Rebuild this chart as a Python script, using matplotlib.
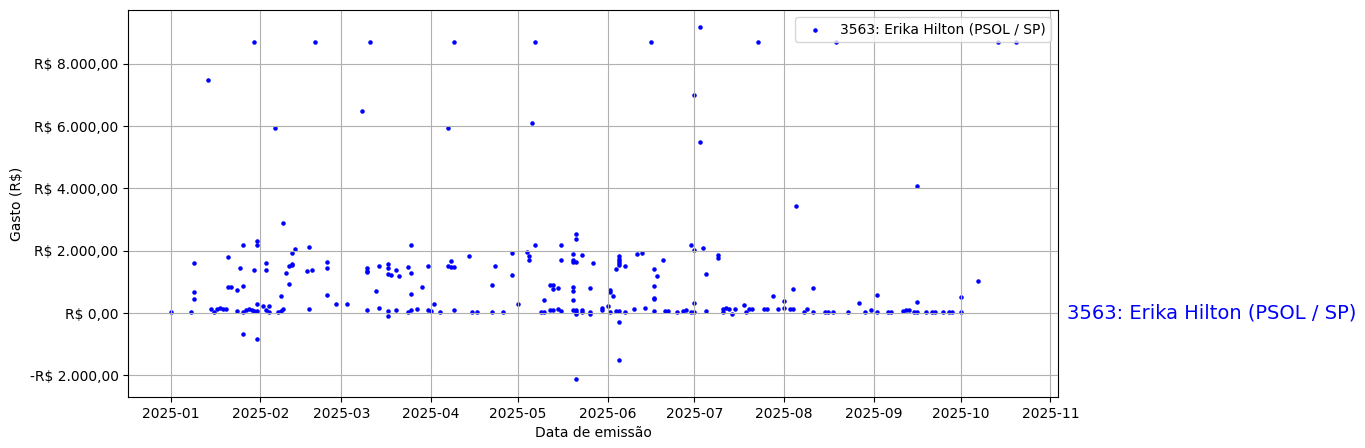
import matplotlib
matplotlib.use("Agg")
import matplotlib.pyplot as plt
import matplotlib.dates as mdates
import matplotlib.ticker as mticker
import matplotlib.transforms as mtransforms
import pandas as pd

LABEL = "3563: Erika Hilton (PSOL / SP)"

# --- data (issue date, amount in R$) ---
dates = [
    "2025-01-01", "2025-01-08", "2025-01-09", "2025-01-09", "2025-01-09", "2025-01-14",
    "2025-01-15", "2025-01-16", "2025-01-17", "2025-01-18", "2025-01-19", "2025-01-20",
    "2025-01-21", "2025-01-21", "2025-01-22", "2025-01-24", "2025-01-25", "2025-01-26",
    "2025-01-26", "2025-01-26", "2025-01-24", "2025-01-26", "2025-01-27", "2025-01-28",
    "2025-01-29", "2025-01-30", "2025-01-30", "2025-01-30", "2025-01-31", "2025-01-31",
    "2025-01-31", "2025-01-31", "2025-01-31",
    "2025-02-02", "2025-02-03", "2025-02-03", "2025-02-03", "2025-02-04", "2025-02-04",
    "2025-02-06", "2025-02-07", "2025-02-08", "2025-02-08", "2025-02-09", "2025-02-09",
    "2025-02-10", "2025-02-11", "2025-02-11", "2025-02-12", "2025-02-12", "2025-02-12",
    "2025-02-13", "2025-02-17", "2025-02-18", "2025-02-18", "2025-02-19", "2025-02-20",
    "2025-02-24", "2025-02-24", "2025-02-24", "2025-02-27",
    "2025-03-03", "2025-03-08", "2025-03-10", "2025-03-10", "2025-03-10", "2025-03-10",
    "2025-03-11", "2025-03-13", "2025-03-14", "2025-03-14", "2025-03-17", "2025-03-17",
    "2025-03-17", "2025-03-17", "2025-03-17", "2025-03-18", "2025-03-20", "2025-03-20",
    "2025-03-21", "2025-03-24", "2025-03-24", "2025-03-25", "2025-03-25", "2025-03-25",
    "2025-03-25", "2025-03-27", "2025-03-29", "2025-03-31", "2025-03-31",
    "2025-04-01", "2025-04-02", "2025-04-04", "2025-04-07", "2025-04-07", "2025-04-08",
    "2025-04-08", "2025-04-09", "2025-04-09", "2025-04-09", "2025-04-14", "2025-04-15",
    "2025-04-17", "2025-04-22", "2025-04-22", "2025-04-23", "2025-04-26", "2025-04-29",
    "2025-04-29",
    "2025-05-01", "2025-05-04", "2025-05-05", "2025-05-05", "2025-05-06", "2025-05-07",
    "2025-05-07", "2025-05-09", "2025-05-10", "2025-05-10", "2025-05-12", "2025-05-12",
    "2025-05-13", "2025-05-13", "2025-05-13", "2025-05-15", "2025-05-15", "2025-05-16",
    "2025-05-16", "2025-05-16", "2025-05-20", "2025-05-20", "2025-05-20", "2025-05-20",
    "2025-05-20", "2025-05-20", "2025-05-20", "2025-05-21", "2025-05-21", "2025-05-21",
    "2025-05-21", "2025-05-21", "2025-05-21", "2025-05-21", "2025-05-23", "2025-05-23",
    "2025-05-23", "2025-05-26", "2025-05-26", "2025-05-26", "2025-05-27", "2025-05-30",
    "2025-05-30",
    "2025-06-01", "2025-06-02", "2025-06-02", "2025-06-02", "2025-06-03", "2025-06-04",
    "2025-06-04", "2025-06-05", "2025-06-05", "2025-06-05", "2025-06-05", "2025-06-05",
    "2025-06-05", "2025-06-05", "2025-06-05", "2025-06-07", "2025-06-07", "2025-06-10",
    "2025-06-11", "2025-06-13", "2025-06-14", "2025-06-16", "2025-06-17", "2025-06-17",
    "2025-06-17", "2025-06-17", "2025-06-17", "2025-06-18", "2025-06-20", "2025-06-21",
    "2025-06-22", "2025-06-25", "2025-06-27", "2025-06-28", "2025-06-30", "2025-06-30",
    "2025-07-01", "2025-07-01", "2025-07-01", "2025-07-01",
    "2025-07-03", "2025-07-03", "2025-07-04", "2025-07-05", "2025-07-05", "2025-07-09",
    "2025-07-09", "2025-07-11", "2025-07-11", "2025-07-12", "2025-07-13", "2025-07-14",
    "2025-07-15", "2025-07-18", "2025-07-19", "2025-07-20", "2025-07-21", "2025-07-23",
    "2025-07-25", "2025-07-26", "2025-07-28", "2025-07-30",
    "2025-08-01", "2025-08-01", "2025-08-03", "2025-08-04", "2025-08-04", "2025-08-05",
    "2025-08-08", "2025-08-09", "2025-08-11", "2025-08-11", "2025-08-15", "2025-08-16",
    "2025-08-18", "2025-08-19", "2025-08-23", "2025-08-27", "2025-08-29", "2025-08-31",
    "2025-09-02", "2025-09-02", "2025-09-06", "2025-09-07", "2025-09-11", "2025-09-12",
    "2025-09-13", "2025-09-15", "2025-09-16", "2025-09-16", "2025-09-16", "2025-09-19",
    "2025-09-21", "2025-09-22", "2025-09-25", "2025-09-27", "2025-09-28",
    "2025-10-01", "2025-10-01", "2025-10-07", "2025-10-14", "2025-10-20",
]
values = [
    20, 20, 1600, 670, 440, 7490,
    120, 20, 120, 150, 120, 120,
    1790, 830, 830, 730, 1440, 2180,
    860, -690, 60, 20, 110, 140,
    90, 8690, 1380, 80, 2310, 2180,
    280, 80, -850,
    220, 1600, 1380, 90, 220, 20,
    5950, 40, 80, 540, 130, 2890,
    1280, 920, 1500, 1530, 1560, 1920,
    2050, 1340, 2120, 120, 1380, 8690,
    1630, 1440, 570, 280,
    280, 6500, 1440, 1340, 1310, 90,
    8690, 700, 1500, 150, 1570, 1440,
    1250, 60, -110, 1210, 1380, 90,
    1180, 1470, 20, 2180, 1280, 600,
    90, 120, 830, 1500, 90,
    50, 280, 20, 5950, 1500, 1470,
    1660, 8690, 1470, 90, 1830, 20,
    20, 20, 890, 1500, 20, 1920,
    1210,
    280, 1950, 1830, 1700, 6110, 8690,
    2180, 20, 20, 410, 890, 90,
    890, 760, 90, 800, 120, 2180,
    1700, 50, 1890, 1700, 1630, 700,
    830, 410, 90, 2540, 2370, 1630,
    90, 20, -40, -2130, 1860, 90,
    20, 800, 20, -40, 1600, 150,
    90,
    220, 20, 730, 670, 540, 1410,
    50, 1830, 1730, 1660, 1600, 1540,
    50, -300, -1520, 20, 1500, 120,
    1890, 1920, 150, 8690, 1410, 860,
    470, 440, 50, 1180, 1700, 50,
    50, 20, 50, 90, 2180, 20,
    7010, 2020, 310, 20,
    9170, 5500, 2080, 1250, 50, 1860,
    1760, 120, 20, 150, 120, -40,
    120, 250, 20, 120, 120, 8690,
    120, 120, 540, 120,
    380, 150, 120, 120, 760, 3440,
    20, 120, 800, 20, 20, 20,
    20, 8690, 20, 310, 20, 90,
    570, 20, 20, 20, 50, 90,
    90, 20, 4090, 340, 20, 20,
    20, 20, 20, 20, 20,
    510, 20, 1020, 8690, 8690,
]


def brl(x, pos=None):
    s = f"{abs(x):,.2f}".replace(",", "X").replace(".", ",").replace("X", ".")
    return f"-R$ {s}" if x < 0 else f"R$ {s}"


fig, ax = plt.subplots(figsize=(13.65, 4.48), dpi=100)
fig.subplots_adjust(left=0.094, right=0.775, top=0.978, bottom=0.114)

ax.scatter(pd.to_datetime(dates), values, s=5, color="blue", label=LABEL)

ax.xaxis.set_major_locator(mdates.MonthLocator())
ax.xaxis.set_major_formatter(mdates.DateFormatter("%Y-%m"))
ax.yaxis.set_major_formatter(mticker.FuncFormatter(brl))
ax.set_xlabel("Data de emissão")
ax.set_ylabel("Gasto (R$)")
ax.grid(True)
ax.legend(loc="upper right")

# series name on the right, at the zero line
trans = mtransforms.blended_transform_factory(ax.transAxes, ax.transData)
ax.text(1.01, 0, LABEL, transform=trans, color="blue", fontsize=14,
        ha="left", va="center")

fig.savefig("out.png", dpi=100)
